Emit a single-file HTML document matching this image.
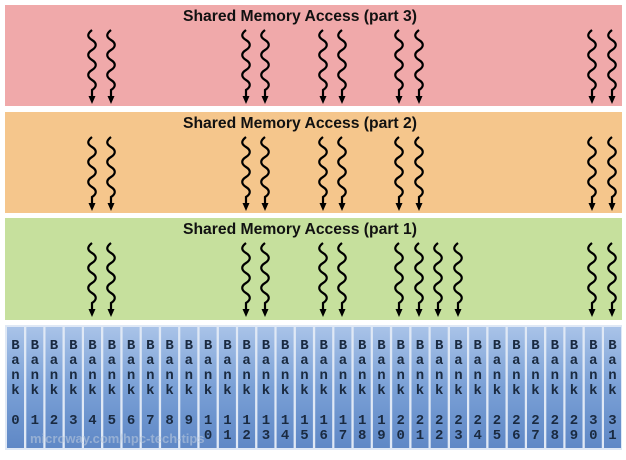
<!DOCTYPE html>
<html><head><meta charset="utf-8"><style>
html,body{margin:0;padding:0;background:#fff;}
svg{display:block;}
.t{font-family:"Liberation Sans",sans-serif;font-weight:bold;font-size:15.7px;fill:#111;text-anchor:middle;}
.b{font-family:"Liberation Mono",monospace;font-weight:bold;font-size:14px;fill:#1a2a40;text-anchor:middle;}
</style></head><body>
<svg width="626" height="460" viewBox="0 0 626 460" xmlns="http://www.w3.org/2000/svg">
<defs>
<linearGradient id="g" x1="0" y1="0" x2="0" y2="1">
<stop offset="0" stop-color="#a9c3e8"/><stop offset="0.5" stop-color="#7aa0d6"/><stop offset="1" stop-color="#5f88c6"/>
</linearGradient>
<g id="sq">
<path d="M0,0 c-5,4 -5,7 0,10 c5,3 5,7 0,10 c-5,3 -5,7 0,10 c5,3 5,7 0,10 c-5,3 -5,7 0,10 c5,3 5,7 0,10 L0,70" fill="none" stroke="#000" stroke-width="2.2"/>
<path d="M-3.5,66 L3.5,66 L0,74 Z" fill="#000"/>
</g>
<g id="bk"><rect width="17" height="121" fill="url(#g)"/><text class="b" x="8.5" y="22">B</text><text class="b" x="8.5" y="37">a</text><text class="b" x="8.5" y="52">n</text><text class="b" x="8.5" y="67">k</text></g>
</defs>
<rect x="5" y="5" width="617" height="101" fill="#f0a9aa"/>
<rect x="5" y="112" width="617" height="101" fill="#f5c68c"/>
<rect x="5" y="218" width="617" height="102" fill="#c6e09d"/>
<text class="t" x="300" y="21">Shared Memory Access (part 3)</text>
<text class="t" x="300" y="128">Shared Memory Access (part 2)</text>
<text class="t" x="300" y="234">Shared Memory Access (part 1)</text>
<g transform="translate(0,30)">
<use href="#sq" x="92"/><use href="#sq" x="111"/><use href="#sq" x="246"/><use href="#sq" x="265"/><use href="#sq" x="323"/><use href="#sq" x="342"/><use href="#sq" x="399"/><use href="#sq" x="419"/><use href="#sq" x="592"/><use href="#sq" x="612"/>
</g>
<g transform="translate(0,137)">
<use href="#sq" x="92"/><use href="#sq" x="111"/><use href="#sq" x="246"/><use href="#sq" x="265"/><use href="#sq" x="323"/><use href="#sq" x="342"/><use href="#sq" x="399"/><use href="#sq" x="419"/><use href="#sq" x="592"/><use href="#sq" x="612"/>
</g>
<g transform="translate(0,243)">
<use href="#sq" x="92"/><use href="#sq" x="111"/><use href="#sq" x="246"/><use href="#sq" x="265"/><use href="#sq" x="323"/><use href="#sq" x="342"/><use href="#sq" x="399"/><use href="#sq" x="419"/><use href="#sq" x="438"/><use href="#sq" x="458"/><use href="#sq" x="592"/><use href="#sq" x="612"/>
</g>
<rect x="5" y="325" width="617" height="125" fill="#dfe8f5"/>
<g>
<g transform="translate(7,327)"><use href="#bk"/><text class="b" x="8.5" y="97">0</text></g>
<g transform="translate(26.3,327)"><use href="#bk"/><text class="b" x="8.5" y="97">1</text></g>
<g transform="translate(45.5,327)"><use href="#bk"/><text class="b" x="8.5" y="97">2</text></g>
<g transform="translate(64.8,327)"><use href="#bk"/><text class="b" x="8.5" y="97">3</text></g>
<g transform="translate(84,327)"><use href="#bk"/><text class="b" x="8.5" y="97">4</text></g>
<g transform="translate(103.3,327)"><use href="#bk"/><text class="b" x="8.5" y="97">5</text></g>
<g transform="translate(122.6,327)"><use href="#bk"/><text class="b" x="8.5" y="97">6</text></g>
<g transform="translate(141.8,327)"><use href="#bk"/><text class="b" x="8.5" y="97">7</text></g>
<g transform="translate(161.1,327)"><use href="#bk"/><text class="b" x="8.5" y="97">8</text></g>
<g transform="translate(180.3,327)"><use href="#bk"/><text class="b" x="8.5" y="97">9</text></g>
<g transform="translate(199.6,327)"><use href="#bk"/><text class="b" x="8.5" y="97">1</text><text class="b" x="8.5" y="112">0</text></g>
<g transform="translate(218.9,327)"><use href="#bk"/><text class="b" x="8.5" y="97">1</text><text class="b" x="8.5" y="112">1</text></g>
<g transform="translate(238.1,327)"><use href="#bk"/><text class="b" x="8.5" y="97">1</text><text class="b" x="8.5" y="112">2</text></g>
<g transform="translate(257.4,327)"><use href="#bk"/><text class="b" x="8.5" y="97">1</text><text class="b" x="8.5" y="112">3</text></g>
<g transform="translate(276.6,327)"><use href="#bk"/><text class="b" x="8.5" y="97">1</text><text class="b" x="8.5" y="112">4</text></g>
<g transform="translate(295.9,327)"><use href="#bk"/><text class="b" x="8.5" y="97">1</text><text class="b" x="8.5" y="112">5</text></g>
<g transform="translate(315.2,327)"><use href="#bk"/><text class="b" x="8.5" y="97">1</text><text class="b" x="8.5" y="112">6</text></g>
<g transform="translate(334.4,327)"><use href="#bk"/><text class="b" x="8.5" y="97">1</text><text class="b" x="8.5" y="112">7</text></g>
<g transform="translate(353.7,327)"><use href="#bk"/><text class="b" x="8.5" y="97">1</text><text class="b" x="8.5" y="112">8</text></g>
<g transform="translate(372.9,327)"><use href="#bk"/><text class="b" x="8.5" y="97">1</text><text class="b" x="8.5" y="112">9</text></g>
<g transform="translate(392.2,327)"><use href="#bk"/><text class="b" x="8.5" y="97">2</text><text class="b" x="8.5" y="112">0</text></g>
<g transform="translate(411.5,327)"><use href="#bk"/><text class="b" x="8.5" y="97">2</text><text class="b" x="8.5" y="112">1</text></g>
<g transform="translate(430.7,327)"><use href="#bk"/><text class="b" x="8.5" y="97">2</text><text class="b" x="8.5" y="112">2</text></g>
<g transform="translate(450,327)"><use href="#bk"/><text class="b" x="8.5" y="97">2</text><text class="b" x="8.5" y="112">3</text></g>
<g transform="translate(469.2,327)"><use href="#bk"/><text class="b" x="8.5" y="97">2</text><text class="b" x="8.5" y="112">4</text></g>
<g transform="translate(488.5,327)"><use href="#bk"/><text class="b" x="8.5" y="97">2</text><text class="b" x="8.5" y="112">5</text></g>
<g transform="translate(507.8,327)"><use href="#bk"/><text class="b" x="8.5" y="97">2</text><text class="b" x="8.5" y="112">6</text></g>
<g transform="translate(527,327)"><use href="#bk"/><text class="b" x="8.5" y="97">2</text><text class="b" x="8.5" y="112">7</text></g>
<g transform="translate(546.3,327)"><use href="#bk"/><text class="b" x="8.5" y="97">2</text><text class="b" x="8.5" y="112">8</text></g>
<g transform="translate(565.5,327)"><use href="#bk"/><text class="b" x="8.5" y="97">2</text><text class="b" x="8.5" y="112">9</text></g>
<g transform="translate(584.8,327)"><use href="#bk"/><text class="b" x="8.5" y="97">3</text><text class="b" x="8.5" y="112">0</text></g>
<g transform="translate(604,327)"><use href="#bk"/><text class="b" x="8.5" y="97">3</text><text class="b" x="8.5" y="112">1</text></g>
</g>
<text x="30" y="443" font-family="Liberation Sans,sans-serif" font-weight="bold" font-size="13" fill="#b9c8dc" fill-opacity="0.6">microway.com/hpc-tech-tips</text>
</svg>
</body></html>
